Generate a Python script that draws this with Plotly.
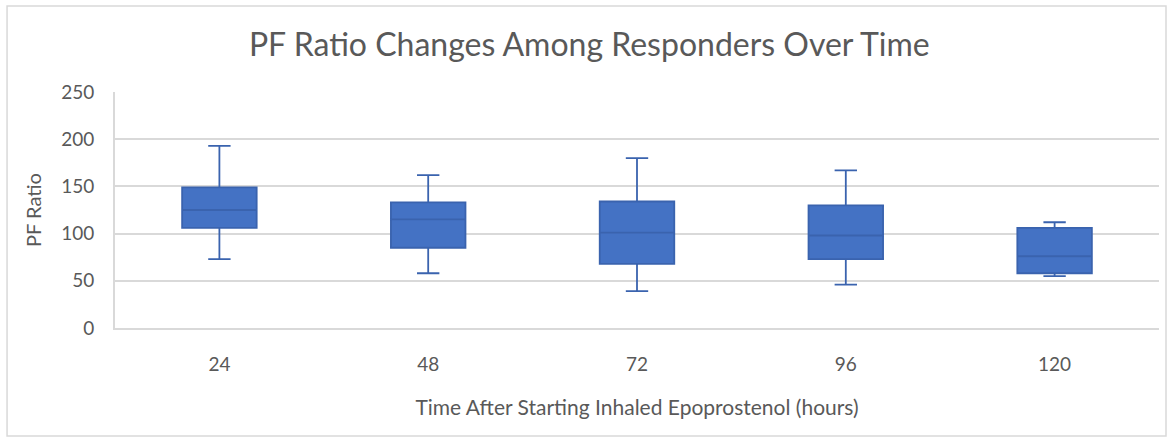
import plotly.graph_objects as go

# Time points (hours) and box-plot summary statistics of the PF ratio
hours = ["24", "48", "72", "96", "120"]
lower_whisker = [73, 58, 39, 46, 55]
q1 = [106, 85, 68, 73, 58]
median = [125, 115, 101, 98, 76]
q3 = [149, 133, 134, 130, 106]
upper_whisker = [193, 162, 180, 167, 112]

TEXT = "#595959"
GRID = "#d9d9d9"
FONT = "Lato, 'Open Sans', sans-serif"

fig = go.Figure()
fig.add_trace(go.Box(
    x=hours,
    q1=q1,
    median=median,
    q3=q3,
    lowerfence=lower_whisker,
    upperfence=upper_whisker,
    fillcolor="#4472C4",
    line=dict(color="#3A63AE", width=1.8),
    whiskerwidth=0.3,
    boxpoints=False,
    hoverinfo="skip",
    showlegend=False,
))

fig.update_layout(
    width=1167,
    height=437,
    margin=dict(l=115, r=8, t=92, b=109),
    paper_bgcolor="white",
    plot_bgcolor="white",
    boxgap=0.49,
    font=dict(family=FONT, color=TEXT),
    title=dict(
        text="PF Ratio Changes Among Responders Over Time",
        x=0.505, xanchor="center",
        y=0.897, yanchor="middle",
        font=dict(size=32, color=TEXT, family=FONT),
    ),
    xaxis=dict(
        type="category",
        showgrid=False,
        showline=True,
        linecolor=GRID,
        linewidth=2,
        ticks="",
        ticklabelstandoff=18,
        tickfont=dict(size=19, color=TEXT),
        title=dict(text="Time After Starting Inhaled Epoprostenol (hours)",
                   font=dict(size=21, color=TEXT), standoff=27),
    ),
    yaxis=dict(
        range=[0, 250],
        dtick=50,
        showgrid=True,
        gridcolor=GRID,
        gridwidth=2,
        showline=True,
        linecolor=GRID,
        linewidth=2,
        zeroline=False,
        ticks="",
        ticklabelstandoff=15,
        tickfont=dict(size=19, color=TEXT),
        title=dict(text="PF Ratio", font=dict(size=20, color=TEXT), standoff=14),
    ),
)

# Light frame around the whole chart
fig.add_shape(
    type="rect", xref="paper", yref="paper",
    x0=-0.1034, x1=1.0067, y0=-0.4576, y1=1.364,
    line=dict(color=GRID, width=1.5), layer="below",
)

fig.write_html("out.html")
